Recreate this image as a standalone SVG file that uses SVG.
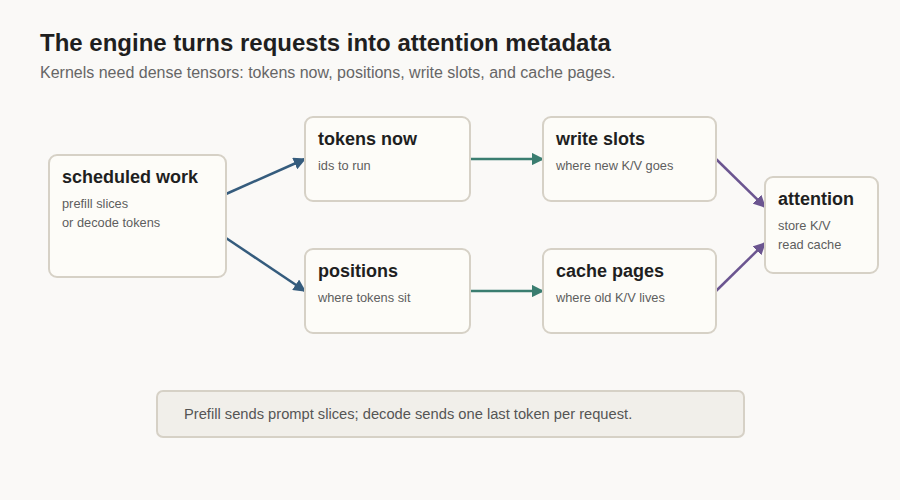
<svg xmlns="http://www.w3.org/2000/svg" width="900" height="500" viewBox="0 0 900 500">
<style>
text{font-family:"Liberation Sans",Arial,sans-serif}
.node{fill:#fdfcf8;stroke:#d6d1c6;stroke-width:2}
.t{font-size:18px;font-weight:bold;fill:#1f1f1f}
.s{font-size:12.8px;fill:#5e5e5e}
.c{fill:none;stroke-width:2.5}
</style>
<defs>
<marker id="mb" viewBox="0 0 10 10" refX="9" refY="5" markerWidth="5" markerHeight="5" orient="auto"><path d="M0,0L10,5L0,10z" fill="#355c7d"/></marker>
<marker id="mg" viewBox="0 0 10 10" refX="9" refY="5" markerWidth="5" markerHeight="5" orient="auto"><path d="M0,0L10,5L0,10z" fill="#3a7d70"/></marker>
<marker id="mp" viewBox="0 0 10 10" refX="9" refY="5" markerWidth="5" markerHeight="5" orient="auto"><path d="M0,0L10,5L0,10z" fill="#6b5590"/></marker>
</defs>
<rect width="900" height="500" fill="#faf9f7"/>
<text x="40" y="51" style="font-size:24px;font-weight:bold;fill:#1f1f1f">The engine turns requests into attention metadata</text>
<text x="40" y="78" style="font-size:16px;fill:#666">Kernels need dense tensors: tokens now, positions, write slots, and cache pages.</text>
<g id="connectors">
<path class="c" stroke="#355c7d" marker-end="url(#mb)" d="M226,194L305,159"/>
<path class="c" stroke="#355c7d" marker-end="url(#mb)" d="M226,238L305,291"/>
<path class="c" stroke="#3a7d70" marker-end="url(#mg)" d="M470,159L543,159"/>
<path class="c" stroke="#3a7d70" marker-end="url(#mg)" d="M470,291L543,291"/>
<path class="c" stroke="#6b5590" marker-end="url(#mp)" d="M716,159L765,207"/>
<path class="c" stroke="#6b5590" marker-end="url(#mp)" d="M716,291L765,243"/>
</g>
<g id="scheduled"><rect class="node" x="49" y="155" width="177" height="122" rx="8"/><text class="t" x="62" y="183">scheduled work</text><text class="s" x="62" y="208">prefill slices</text><text class="s" x="62" y="227">or decode tokens</text></g>
<g id="tokens"><rect class="node" x="305" y="117" width="165" height="84" rx="8"/><text class="t" x="318" y="145">tokens now</text><text class="s" x="318" y="170">ids to run</text></g>
<g id="positions"><rect class="node" x="305" y="249" width="165" height="84" rx="8"/><text class="t" x="318" y="277">positions</text><text class="s" x="318" y="302">where tokens sit</text></g>
<g id="write"><rect class="node" x="543" y="117" width="173" height="84" rx="8"/><text class="t" x="556" y="145">write slots</text><text class="s" x="556" y="170">where new K/V goes</text></g>
<g id="cache"><rect class="node" x="543" y="249" width="173" height="84" rx="8"/><text class="t" x="556" y="277">cache pages</text><text class="s" x="556" y="302">where old K/V lives</text></g>
<g id="attention"><rect class="node" x="765" y="177" width="113" height="96" rx="8"/><text class="t" x="778" y="205">attention</text><text class="s" x="778" y="230">store K/V</text><text class="s" x="778" y="249">read cache</text></g>
<g id="note"><rect x="157" y="391" width="587" height="46" rx="6" fill="#f1efea" stroke="#d6d1c6" stroke-width="2"/><text x="184" y="419" style="font-size:14.7px;fill:#555">Prefill sends prompt slices; decode sends one last token per request.</text></g>
</svg>
